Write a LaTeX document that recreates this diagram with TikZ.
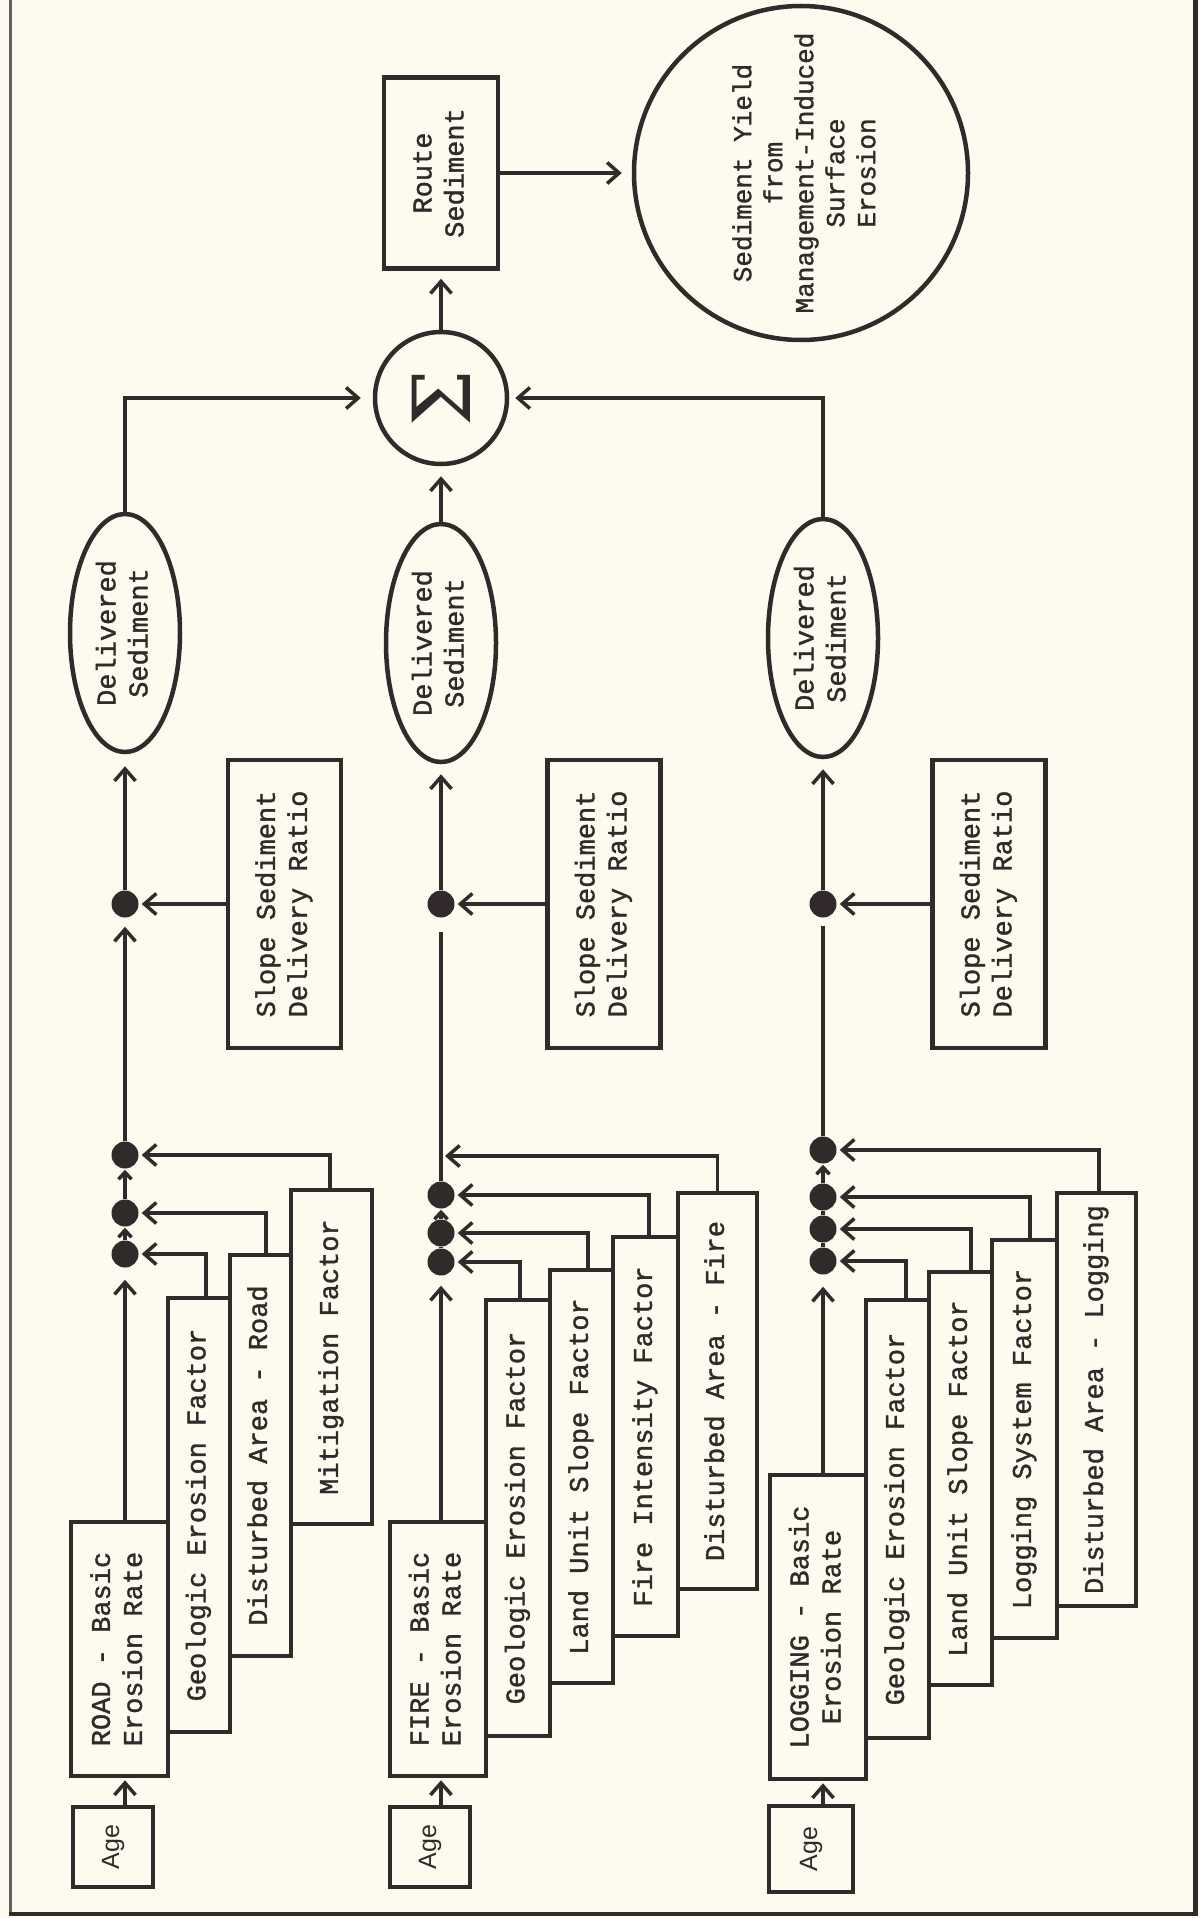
\documentclass[tikz,border=0pt]{standalone}
\usepackage{fontspec}
\usepackage{graphicx}
\usetikzlibrary{shapes.geometric,arrows.meta,calc}
\newfontfamily\twfont[FakeBold=1.3]{Liberation Mono}
\newfontfamily\agefont{Liberation Sans}
\newfontfamily\symfont{DejaVu Serif}
\definecolor{ink}{RGB}{48,43,42}
\definecolor{paper}{RGB}{252,251,240}
\newcommand{\rt}[1]{\rotatebox{90}{\begin{tabular}{@{}c@{}}#1\end{tabular}}}
\begin{document}
\begin{tikzpicture}[x=1pt,y=-1pt,
  every node/.style={text=ink},
  box/.style={draw=ink, line width=4.5pt, rectangle, inner sep=0pt, font=\twfont\fontsize{27}{32}\selectfont},
  agebox/.style={draw=ink, line width=4.5pt, rectangle, inner sep=0pt, minimum width=80pt, minimum height=80pt, font=\agefont\fontsize{25}{30}\selectfont},
  oval/.style={draw=ink, line width=4.5pt, ellipse, inner sep=0pt, minimum width=110pt, minimum height=238pt, font=\twfont\fontsize{27}{32}\selectfont},
  fdot/.style={circle, fill=ink, inner sep=0pt, minimum size=27pt},
  conn/.style={draw=ink, line width=3.5pt},
  arr/.style={conn, -{Straight Barb[length=12pt,width=21pt]}, shorten >=8pt},
  sarr/.style={conn, -{Straight Barb[length=7pt,width=13pt]}, shorten >=1pt}
]
\fill[paper] (0,0) rectangle (1200,1918);
\useasboundingbox (0,0) rectangle (1200,1918);
% frame
\draw[ink!75, line width=3pt] (10,0) -- (10,1914);
\draw[ink, line width=4pt] (8.5,1914) -- (1195,1914);
\draw[ink, line width=5pt] (1195,0) -- (1195,1916);

% top part
\node[box, minimum width=114pt, minimum height=191pt] (route) at (441,173) {\rt{Route\\Sediment}};
\node[draw=ink, line width=4.5pt, circle, minimum size=334pt, inner sep=0pt, font=\twfont\fontsize{26}{31}\selectfont] (yield) at (801,173) {\hspace{12pt}\rt{Sediment Yield\\from\\Management-Induced\\Surface\\Erosion}};
\node[draw=ink, line width=4.5pt, circle, minimum size=132pt, inner sep=0pt] (sum) at (441,398) {\rotatebox{90}{\symfont\fontsize{80}{80}\selectfont Σ}};

% ellipses
\node[oval] (ellR) at (125,633) {\rt{Delivered\\Sediment}};
\node[oval] (ellF) at (441,643) {\rt{Delivered\\Sediment}};
\node[oval] (ellL) at (823,638) {\rt{Delivered\\Sediment}};

% slope sediment delivery ratio boxes
\node[box, minimum width=113pt, minimum height=288pt] (sdrR) at (284.5,904) {\rt{Slope Sediment\\Delivery Ratio}};
\node[box, minimum width=113pt, minimum height=288pt] (sdrF) at (604,904) {\rt{Slope Sediment\\Delivery Ratio}};
\node[box, minimum width=113pt, minimum height=288pt] (sdrL) at (989,904) {\rt{Slope Sediment\\Delivery Ratio}};

\node[fdot] (dsR) at (125,904) {};
\node[fdot] (dsF) at (441,904) {};
\node[fdot] (dsL) at (823,904) {};

% ROAD
\node[fdot] (dR1) at (125,1155) {};
\node[fdot] (dR2) at (125,1213) {};
\node[fdot] (dR3) at (125,1254) {};
\node[agebox] (ageR) at (113,1847) {\rotatebox{90}{Age}};
\node[box, minimum width=97pt, minimum height=254pt] (basicR) at (119.5,1649) {\rt{ROAD - Basic\\Erosion Rate}};
\node[box, minimum width=62pt, minimum height=434pt] (geoR) at (199,1515) {\rt{Geologic Erosion Factor}};
\node[box, minimum width=61pt, minimum height=401pt] (distR) at (260.5,1455.5) {\rt{Disturbed Area - Road}};
\node[box, minimum width=81pt, minimum height=334pt] (mitR) at (331.5,1357) {\rt{Mitigation Factor}};

% FIRE
\coordinate (cF0) at (441,1156);
\coordinate (gapF) at (441,932);
\node[fdot] (dF1) at (441,1195) {};
\node[fdot] (dF2) at (441,1233) {};
\node[fdot] (dF3) at (441,1262) {};
\node[agebox] (ageF) at (430,1847) {\rotatebox{90}{Age}};
\node[box, minimum width=96pt, minimum height=254pt] (basicF) at (438,1649) {\rt{FIRE - Basic\\Erosion Rate}};
\node[box, minimum width=64pt, minimum height=436pt] (geoF) at (518,1518) {\rt{Geologic Erosion Factor}};
\node[box, minimum width=63pt, minimum height=413pt] (landF) at (581.5,1476.5) {\rt{Land Unit Slope Factor}};
\node[box, minimum width=65pt, minimum height=399pt] (fireF) at (645.5,1436.5) {\rt{Fire Intensity Factor}};
\node[box, minimum width=79pt, minimum height=396pt] (distF) at (717.5,1391) {\rt{Disturbed Area - Fire}};

% LOGGING
\coordinate (gapL) at (823,926);
\node[fdot] (dL1) at (823,1150) {};
\node[fdot] (dL2) at (823,1197) {};
\node[fdot] (dL3) at (823,1229) {};
\node[fdot] (dL4) at (823,1261) {};
\node[agebox, minimum width=84pt, minimum height=86pt] (ageL) at (811,1849) {\rotatebox{90}{Age}};
\node[box, minimum width=96pt, minimum height=304pt] (basicL) at (818,1627) {\rt{LOGGING - Basic\\Erosion Rate}};
\node[box, minimum width=63pt, minimum height=438pt] (geoL) at (897.5,1519) {\rt{Geologic Erosion Factor}};
\node[box, minimum width=63pt, minimum height=413pt] (landL) at (960.5,1478.5) {\rt{Land Unit Slope Factor}};
\node[box, minimum width=65pt, minimum height=398pt] (logsysL) at (1024.5,1439) {\rt{Logging System Factor}};
\node[box, minimum width=79pt, minimum height=413pt] (distL) at (1096.5,1399.5) {\rt{Disturbed Area - Logging}};

% ROAD connectors
\draw[arr, shorten >=2pt] (ageR.north -| dR3) -- (basicR.south -| dR3);
\draw[arr, shorten >=12pt] (basicR.north -| dR3) -- (dR3);
\draw[sarr] (dR3) -- (dR2);
\draw[sarr] (dR2) -- (dR1);
\draw[arr, shorten >=9pt] (dR1) -- (dsR);
\draw[arr, shorten >=3pt] ([xshift=7pt]geoR.north) |- (dR3);
\draw[arr, shorten >=3pt] ([xshift=5.5pt]distR.north) |- (dR2);
\draw[arr, shorten >=3pt] ([xshift=-1.5pt]mitR.north) |- (dR1);
\draw[arr, shorten >=3pt] (sdrR.west |- dsR) -- (dsR);
\draw[arr, shorten >=12pt] (dsR) -- (ellR.south);
\draw[arr, shorten >=12pt] (ellR.north) |- (sum.west);

% FIRE connectors
\draw[arr, shorten >=2pt] (ageF.north -| dF3) -- (basicF.south -| dF3);
\draw[arr, shorten >=10pt] (basicF.north -| dF3) -- (dF3);
\draw[conn] (dF3) -- (dF2);
\draw[sarr] (dF2) -- (dF1);
\draw[conn] (dF1) -- (gapF);
\draw[arr, shorten >=3pt] ([xshift=2pt]geoF.north) |- (dF3);
\draw[arr, shorten >=3pt] ([xshift=6.5pt]landF.north) |- (dF2);
\draw[arr, shorten >=3pt] ([xshift=3.5pt]fireF.north) |- (dF1);
\draw[arr, shorten >=4pt] (distF.north) |- (cF0);
\draw[arr, shorten >=3pt] (sdrF.west |- dsF) -- (dsF);
\draw[arr, shorten >=10pt] (dsF) -- (ellF.south);
\draw[arr, shorten >=10pt] (ellF.north) -- (sum.south);

% LOGGING connectors
\draw[arr, shorten >=2pt] (ageL.north -| dL4) -- (basicL.south -| dL4);
\draw[arr, shorten >=12pt] (basicL.north -| dL4) -- (dL4);
\draw[conn] (dL4) -- (dL3);
\draw[conn] (dL3) -- (dL2);
\draw[sarr] (dL2) -- (dL1);
\draw[conn] (dL1) -- (gapL);
\draw[arr, shorten >=3pt] ([xshift=8.5pt]geoL.north) |- (dL4);
\draw[arr, shorten >=3pt] ([xshift=10.5pt]landL.north) |- (dL3);
\draw[arr, shorten >=3pt] ([xshift=5.5pt]logsysL.north) |- (dL2);
\draw[arr, shorten >=3pt] ([xshift=2.5pt]distL.north) |- (dL1);
\draw[arr, shorten >=3pt] (sdrL.west |- dsL) -- (dsL);
\draw[arr, shorten >=10pt] (dsL) -- (ellL.south);
\draw[arr, shorten >=6pt] (ellL.north) |- (sum.east);

% top connectors
\draw[arr, shorten >=8pt] (sum.north) -- (route.south);
\draw[arr, shorten >=10pt] (route.east) -- (yield.west);
\end{tikzpicture}
\end{document}
